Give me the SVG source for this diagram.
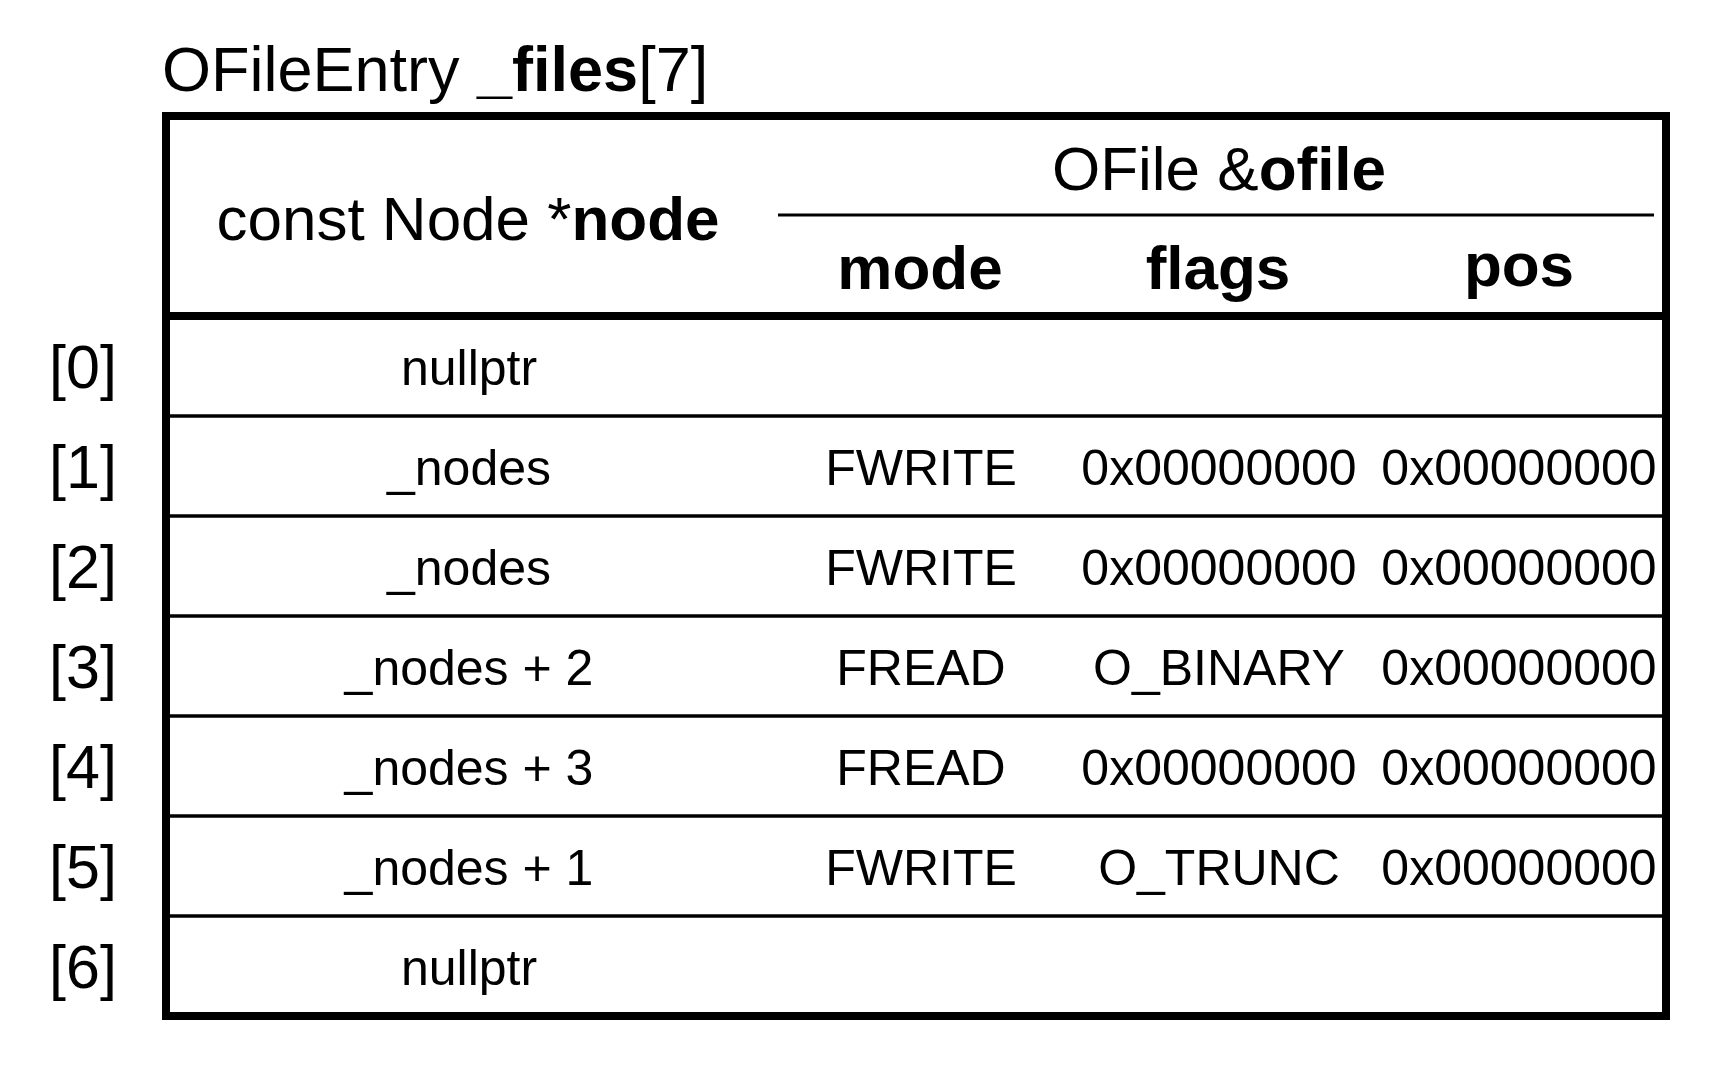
<svg xmlns="http://www.w3.org/2000/svg" width="1733" height="1083" viewBox="0 0 1733 1083">
<style>
text{font-family:"Liberation Sans",Arial,Helvetica,sans-serif;fill:#000}
.b{font-weight:bold}
.t{font-size:63px}
.h{font-size:62px;text-anchor:middle}
.c{font-size:50px;text-anchor:middle}
.l{font-size:61px;text-anchor:middle}
.thick{stroke:#000;stroke-width:8;fill:none}
.thin{stroke:#000;stroke-width:3.5;fill:none}
.sub{stroke:#000;stroke-width:3;fill:none}
</style>
<rect width="1733" height="1083" fill="#fff"/>
<g id="title"><text class="t" x="162" y="91">OFileEntry <tspan class="b">_files</tspan>[7]</text></g>
<g id="grid">
<rect class="thick" x="166" y="116" width="1500" height="900"/>
<line class="thick" x1="166" y1="316" x2="1666" y2="316"/>
<line class="sub" x1="778" y1="215" x2="1654" y2="215"/>
<line class="thin" x1="166" y1="416" x2="1666" y2="416"/>
<line class="thin" x1="166" y1="516" x2="1666" y2="516"/>
<line class="thin" x1="166" y1="616" x2="1666" y2="616"/>
<line class="thin" x1="166" y1="716" x2="1666" y2="716"/>
<line class="thin" x1="166" y1="816" x2="1666" y2="816"/>
<line class="thin" x1="166" y1="916" x2="1666" y2="916"/>
</g>
<g id="header">
<text class="h" x="468" y="240">const Node *<tspan class="b">node</tspan></text>
<text class="h" x="1219" y="190">OFile &amp;<tspan class="b">ofile</tspan></text>
<text class="h b" x="920" y="289">mode</text>
<text class="h b" x="1218" y="289">flags</text>
<text class="h b" x="1519" y="286">pos</text>
</g>
<g id="row0"><text class="l" x="83" y="388">[0]</text><text class="c" x="469" y="385">nullptr</text></g>
<g id="row1"><text class="l" x="83" y="488">[1]</text><text class="c" x="469" y="485">_nodes</text><text class="c" x="921" y="485">FWRITE</text><text class="c" x="1219" y="485">0x00000000</text><text class="c" x="1519" y="485">0x00000000</text></g>
<g id="row2"><text class="l" x="83" y="588">[2]</text><text class="c" x="469" y="585">_nodes</text><text class="c" x="921" y="585">FWRITE</text><text class="c" x="1219" y="585">0x00000000</text><text class="c" x="1519" y="585">0x00000000</text></g>
<g id="row3"><text class="l" x="83" y="688">[3]</text><text class="c" x="469" y="685">_nodes + 2</text><text class="c" x="921" y="685">FREAD</text><text class="c" x="1219" y="685">O_BINARY</text><text class="c" x="1519" y="685">0x00000000</text></g>
<g id="row4"><text class="l" x="83" y="788">[4]</text><text class="c" x="469" y="785">_nodes + 3</text><text class="c" x="921" y="785">FREAD</text><text class="c" x="1219" y="785">0x00000000</text><text class="c" x="1519" y="785">0x00000000</text></g>
<g id="row5"><text class="l" x="83" y="888">[5]</text><text class="c" x="469" y="885">_nodes + 1</text><text class="c" x="921" y="885">FWRITE</text><text class="c" x="1219" y="885">O_TRUNC</text><text class="c" x="1519" y="885">0x00000000</text></g>
<g id="row6"><text class="l" x="83" y="988">[6]</text><text class="c" x="469" y="985">nullptr</text></g>
</svg>
